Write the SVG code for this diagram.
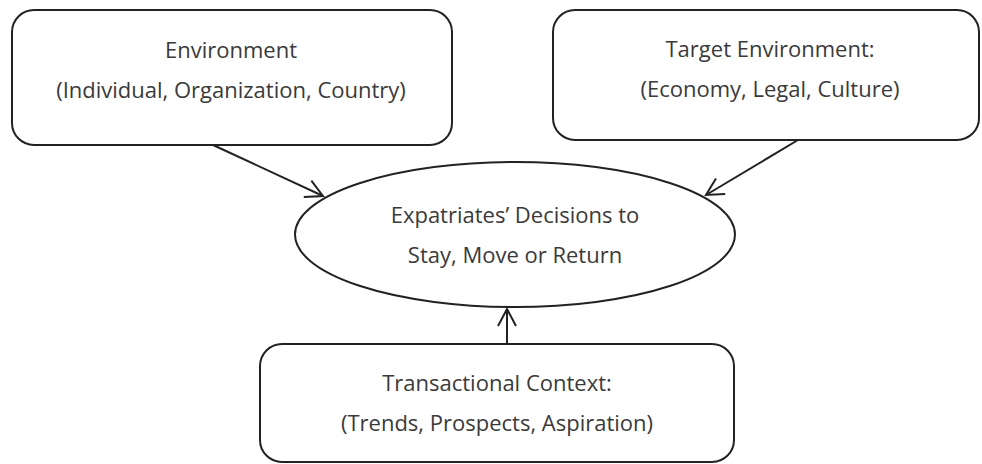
<svg xmlns="http://www.w3.org/2000/svg" width="982" height="464" viewBox="0 0 982 464">
<style>
.box{fill:#fff;stroke:#222;stroke-width:2}
.t{font-family:"Open Sans","Noto Sans",sans-serif;font-size:22px;fill:#3a3a3a;text-anchor:middle}
.c{stroke:#222;stroke-width:2;fill:none;marker-end:url(#ah)}
</style>
<defs>
<marker id="ah" viewBox="0 0 24 24" refX="22" refY="12" markerWidth="24" markerHeight="24" markerUnits="userSpaceOnUse" orient="auto">
<path d="M5,3 L22,12 L5,21" fill="none" stroke="#222" stroke-width="2"/>
</marker>
</defs>
<rect width="982" height="464" fill="#fff"/>
<g id="env">
<rect class="box" x="12" y="10" width="440" height="135" rx="22"/>
<text class="t" x="231" y="58">Environment</text>
<text class="t" x="231" y="98">(Individual, Organization, Country)</text>
</g>
<g id="target">
<rect class="box" x="553" y="10" width="426" height="130" rx="22"/>
<text class="t" x="770" y="57">Target Environment:</text>
<text class="t" x="770" y="97">(Economy, Legal, Culture)</text>
</g>
<g id="decision">
<ellipse class="box" cx="515" cy="234.5" rx="220" ry="72.5"/>
<text class="t" x="515" y="223">Expatriates’ Decisions to</text>
<text class="t" x="515" y="263">Stay, Move or Return</text>
</g>
<g id="transactional">
<rect class="box" x="260" y="344" width="474" height="118" rx="22"/>
<text class="t" x="497" y="391">Transactional Context:</text>
<text class="t" x="497" y="431">(Trends, Prospects, Aspiration)</text>
</g>
<g id="connectors">
<line class="c" x1="213" y1="145" x2="323" y2="196"/>
<line class="c" x1="798" y1="140" x2="706" y2="195"/>
<line class="c" x1="507" y1="344" x2="507" y2="309"/>
</g>
</svg>
